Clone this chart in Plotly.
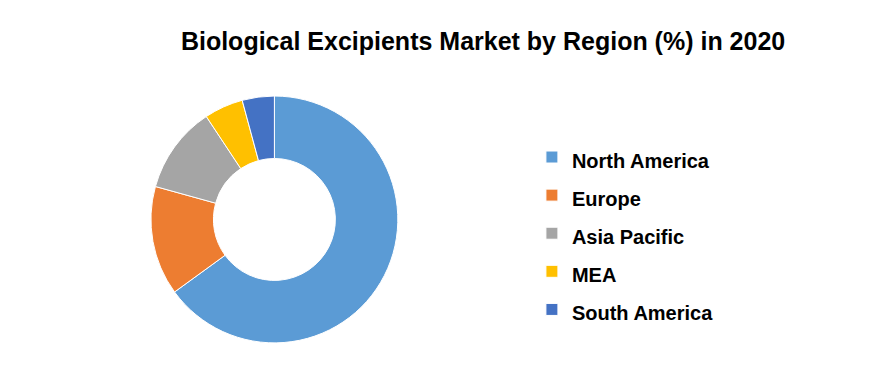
import plotly.graph_objects as go

regions = ["North America", "Europe", "Asia Pacific", "MEA", "South America"]
shares = [65.0, 14.3, 11.4, 5.1, 4.2]
colors = ["#5B9BD5", "#ED7D31", "#A5A5A5", "#FFC000", "#4472C4"]
title_text = "Biological Excipients Market by Region (%) in 2020"

W, H = 888, 384
legend_labels = [f"<span style='font-size:20px'><b>{r}</b></span>" for r in regions]

fig = go.Figure(go.Pie(
    labels=legend_labels,
    values=shares,
    hole=0.494,
    sort=False,
    direction="clockwise",
    rotation=0,
    marker=dict(colors=colors, line=dict(color="white", width=1)),
    textinfo="none",
    hovertext=regions,
    hoverinfo="text+percent",
    domain=dict(x=[0.170, 0.448], y=[0.107, 0.75]),
))
fig.update_layout(
    width=W, height=H,
    margin=dict(l=0, r=0, t=0, b=0),
    paper_bgcolor="white",
    plot_bgcolor="white",
    title=dict(text=f"<b>{title_text}</b>", x=0.544, xanchor="center", y=0.892, yanchor="middle",
               font=dict(family="Liberation Sans", size=25, color="black")),
    legend=dict(x=0.599, y=0.392, xanchor="left", yanchor="middle",
                font=dict(family="Liberation Sans", size=27, color="black")),
    showlegend=True,
)
fig.write_html("out.html")
